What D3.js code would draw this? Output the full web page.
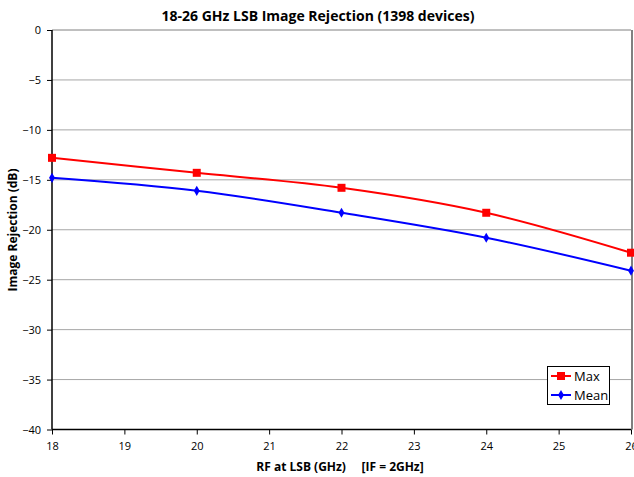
<!DOCTYPE html>
<html><head><meta charset="utf-8">
<script src="https://cdn.jsdelivr.net/npm/d3@7"></script>
<style>body{margin:0;background:#fff}svg{display:block}text{font-family:"Open Sans","Noto Sans",sans-serif}</style>
</head><body><svg id="c" width="634" height="477"></svg>
<script>
const freqs = [18, 20, 22, 24, 26];
const maxVals = [-12.8, -14.3, -15.8, -18.3, -22.3];
const meanVals = [-14.8, -16.1, -18.3, -20.8, -24.1];
const xTicks = [18, 19, 20, 21, 22, 23, 24, 25, 26];
const yTicks = [0, -5, -10, -15, -20, -25, -30, -35, -40];
const seriesNames = ["Max", "Mean"];

const svg = d3.select("#c");
const L = 52, R = 631, T = 30, B = 429.5;
const x = d3.scaleLinear().domain([18, 26]).range([L, R]);
const y = d3.scaleLinear().domain([-40, 0]).range([B, T]);

// gridlines
svg.append("g").selectAll("line").data(yTicks.filter(d => d > -40 && d < 0)).join("line")
  .attr("x1", L).attr("x2", R).attr("y1", d => y(d)).attr("y2", d => y(d))
  .attr("stroke", "#a6a6a6").attr("stroke-width", 1);
// top border
svg.append("line").attr("x1", L).attr("x2", R).attr("y1", T).attr("y2", T).attr("stroke", "#808080").attr("stroke-width", 1);
// right border
svg.append("line").attr("x1", R + 1).attr("x2", R + 1).attr("y1", T).attr("y2", B).attr("stroke", "#808080").attr("stroke-width", 2);

const yAxis = svg.append("g").attr("transform", `translate(${L},0)`)
  .call(d3.axisLeft(y).tickValues(yTicks).tickSize(5).tickPadding(6).tickFormat(d3.format("d")));
const xAxis = svg.append("g").attr("transform", `translate(0,${B})`)
  .call(d3.axisBottom(x).tickValues(xTicks).tickSize(5).tickPadding(8).tickFormat(d3.format("d")));
[yAxis, xAxis].forEach(a => {
  a.select(".domain").attr("stroke", "#000").attr("stroke-width", 1.5);
  a.selectAll(".tick line").attr("stroke", "#000");
  a.selectAll("text").attr("font-size", 11).attr("fill", "#000").attr("font-family", '"Open Sans",sans-serif');
});
xAxis.select(".domain").attr("d", `M${L},0H${R}`);
yAxis.select(".domain").attr("d", `M0,${B}V${T}`);

const line = d3.line().x((d, i) => x(freqs[i])).y(d => y(d)).curve(d3.curveCatmullRom.alpha(0.5));
const series = [
  {name: seriesNames[0], vals: maxVals, color: "#ff0000", shape: "square"},
  {name: seriesNames[1], vals: meanVals, color: "#0000ff", shape: "diamond"}
];
series.forEach(s => {
  svg.append("path").attr("d", line(s.vals)).attr("fill", "none").attr("stroke", s.color).attr("stroke-width", 2);
  const sym = s.shape === "square" ? d3.symbol(d3.symbolSquare, 64) : d3.symbol(d3.symbolDiamond, 30);
  svg.append("g").selectAll("path").data(s.vals).join("path")
    .attr("transform", (d, i) => `translate(${x(freqs[i])},${y(d)})`)
    .attr("d", sym).attr("fill", s.color);
});

// legend
const lg = svg.append("g");
lg.append("rect").attr("x", 547.5).attr("y", 366.5).attr("width", 62).attr("height", 38)
  .attr("fill", "#fff").attr("stroke", "#000").attr("stroke-width", 1);
series.forEach((s, i) => {
  const ly = 376 + i * 19;
  lg.append("line").attr("x1", 551).attr("x2", 571).attr("y1", ly).attr("y2", ly).attr("stroke", s.color).attr("stroke-width", 2);
  const sym = s.shape === "square" ? d3.symbol(d3.symbolSquare, 64) : d3.symbol(d3.symbolDiamond, 30);
  lg.append("path").attr("transform", `translate(561,${ly})`).attr("d", sym).attr("fill", s.color);
  lg.append("text").attr("x", 574).attr("y", ly + 4.5).attr("font-size", 13).text(s.name);
});

// titles
svg.append("text").attr("x", 318).attr("y", 21).attr("text-anchor", "middle")
  .attr("font-size", 14).attr("font-weight", "bold").text("18-26 GHz LSB Image Rejection (1398 devices)");
svg.append("text").attr("transform", "translate(17,230) rotate(-90)").attr("text-anchor", "middle")
  .attr("font-size", 12).attr("font-weight", "bold").text("Image Rejection (dB)");
const xt = svg.append("text").attr("x", 340).attr("y", 471).attr("text-anchor", "middle")
  .attr("font-size", 12).attr("font-weight", "bold").attr("xml:space", "preserve");
xt.text("RF at LSB (GHz)     [IF = 2GHz]");
</script></body></html>
